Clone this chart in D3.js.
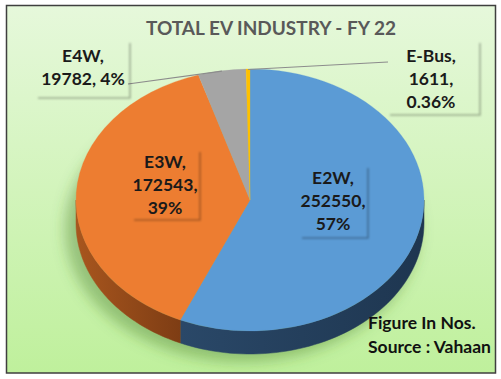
<!DOCTYPE html>
<html><head><meta charset="utf-8">
<script src="https://cdn.jsdelivr.net/npm/d3@7"></script>
<style>body{margin:0;background:#fff}svg{display:block}</style>
</head><body>
<script>
const categories = ["E2W", "E3W", "E4W", "E-Bus"];
const values = [252550, 172543, 19782, 1611];
const percentLabels = ["57%", "39%", "4%", "0.36%"];
const colors = ["#5b9bd5", "#ed7d31", "#a5a5a5", "#ffc000"];
const sideColors = [["#2a4868", "#1e3650"], ["#a8561e", "#7e3d14"], ["#6e6e6e", "#5a5a5a"], ["#b08500", "#997300"]];
const titleText = "TOTAL EV INDUSTRY - FY 22";
const noteLines = ["Figure In Nos.", "Source : Vahaan"];

const W = 501, H = 379;
const cx = 250, cy = 200, rx = 174, ry = 131, depth = 23;
const font = "Lato, 'Open Sans', sans-serif";

const svg = d3.select("body").append("svg").attr("width", W).attr("height", H);
const defs = svg.append("defs");
const bg = defs.append("linearGradient").attr("id", "bg").attr("x1", 0).attr("y1", 0).attr("x2", 0).attr("y2", 1);
bg.append("stop").attr("offset", "0%").attr("stop-color", "#e6f8db");
bg.append("stop").attr("offset", "100%").attr("stop-color", "#bff09c");
defs.append("filter").attr("id", "blur").attr("x", "-30%").attr("y", "-30%").attr("width", "160%").attr("height", "160%")
  .append("feGaussianBlur").attr("stdDeviation", 7);
defs.append("filter").attr("id", "sblur").append("feGaussianBlur").attr("stdDeviation", 0.8);
defs.append("clipPath").attr("id", "frameClip").append("rect").attr("x", 6.5).attr("y", 5.5).attr("width", 489).attr("height", 367.5);
sideColors.forEach((c, i) => {
  const g = defs.append("linearGradient").attr("id", "side" + i).attr("x1", 0).attr("x2", 1).attr("y1", 0).attr("y2", 0);
  g.append("stop").attr("offset", "0%").attr("stop-color", c[0]);
  g.append("stop").attr("offset", "100%").attr("stop-color", c[1]);
});

// frame
svg.append("rect").attr("x", 6.5).attr("y", 5.5).attr("width", 489).attr("height", 367.5)
  .attr("fill", "url(#bg)");
const content = svg.append("g").attr("clip-path", "url(#frameClip)");

// title
content.append("text").attr("x", 271).attr("y", 35).attr("text-anchor", "middle")
  .attr("font-family", font).attr("font-weight", 700).attr("font-size", 19)
  .attr("fill", "#595959").text(titleText);

// shadow
content.append("ellipse").attr("cx", cx - 8).attr("cy", cy + depth + 6).attr("rx", rx + 3).attr("ry", ry + 2)
  .attr("fill", "rgba(70,120,40,0.4)").attr("filter", "url(#blur)");

const pie = d3.pie().sort(null).value(d => d);
const arcs = pie(values);
const px = a => cx + rx * Math.sin(a);
const py = a => cy - ry * Math.cos(a);

// sides
const gSide = content.append("g");
arcs.forEach((a, i) => {
  const s0 = Math.max(a.startAngle, Math.PI / 2), s1 = Math.min(a.endAngle, 3 * Math.PI / 2);
  if (s0 >= s1) return;
  const n = 60, pts = [];
  for (let k = 0; k <= n; k++) { const t = s0 + (s1 - s0) * k / n; pts.push([px(t), py(t)]); }
  const bot = pts.slice().reverse().map(p => [p[0], p[1] + depth]);
  gSide.append("path").attr("d", d3.line()(pts.concat(bot)) + "Z")
    .attr("fill", `url(#side${i})`).attr("stroke", `url(#side${i})`).attr("stroke-width", 0.5);
});

// top face
const arc = d3.arc().innerRadius(0).outerRadius(rx);
content.append("g").attr("transform", `translate(${cx},${cy}) scale(1,${ry / rx})`)
  .selectAll("path").data(arcs).join("path")
  .attr("d", arc).attr("fill", (d, i) => colors[i]).attr("stroke", (d, i) => colors[i]).attr("stroke-width", 0.3);

// leader lines
const mid = a => (a.startAngle + a.endAngle) / 2;
const leaders = [
  { i: 2, to: [128, 84] },
  { i: 3, to: [388, 62] }
];
leaders.forEach(l => {
  const a = arcs[l.i];
  content.append("line").attr("x1", px(mid(a))).attr("y1", py(mid(a)) + 0.5).attr("x2", l.to[0]).attr("y2", l.to[1])
    .attr("stroke", "#8c8c8c").attr("stroke-width", 1.2);
});

// labels
const labelLayout = [
  { i: 0, x: 333, y: 184, lines: [categories[0] + ",", values[0] + ",", percentLabels[0]], box: [300, 166, 368, 238] },
  { i: 1, x: 165, y: 168, lines: [categories[1] + ",", values[1] + ",", percentLabels[1]], box: [132, 150, 200, 220] },
  { i: 2, x: 83, y: 62, lines: [categories[2] + ",", values[2] + ", " + percentLabels[2]], box: [36, 41, 130, 98] },
  { i: 3, x: 431, y: 62, lines: [categories[3] + ",", values[3] + ",", percentLabels[3]], box: [388, 41, 480, 115] }
];
labelLayout.forEach(L => {
  const [x0, y0, x1, y1] = L.box;
  content.append("path").attr("d", `M${x1},${y0 + 2}L${x1},${y1}L${x0 + 2},${y1}`)
    .attr("fill", "none").attr("stroke", "rgba(0,0,0,0.3)").attr("stroke-width", 1.6).attr("filter", "url(#sblur)");
  const t = content.append("text").attr("text-anchor", "middle").attr("font-family", font)
    .attr("font-weight", 700).attr("font-size", 17.5).attr("fill", "#1a1a1a");
  L.lines.forEach((s, k) => t.append("tspan").attr("x", L.x).attr("y", L.y + k * 23).text(s));
});

// note
const note = content.append("text").attr("font-family", font).attr("font-weight", 700).attr("font-size", 17.5).attr("fill", "#111");
noteLines.forEach((s, k) => note.append("tspan").attr("x", 368).attr("y", 329 + k * 23.5).text(s));

// frame border
svg.append("rect").attr("x", 6.5).attr("y", 5.5).attr("width", 489).attr("height", 367.5)
  .attr("fill", "none").attr("stroke", "#3f3f3f").attr("stroke-width", 1.5);
</script>
</body></html>
